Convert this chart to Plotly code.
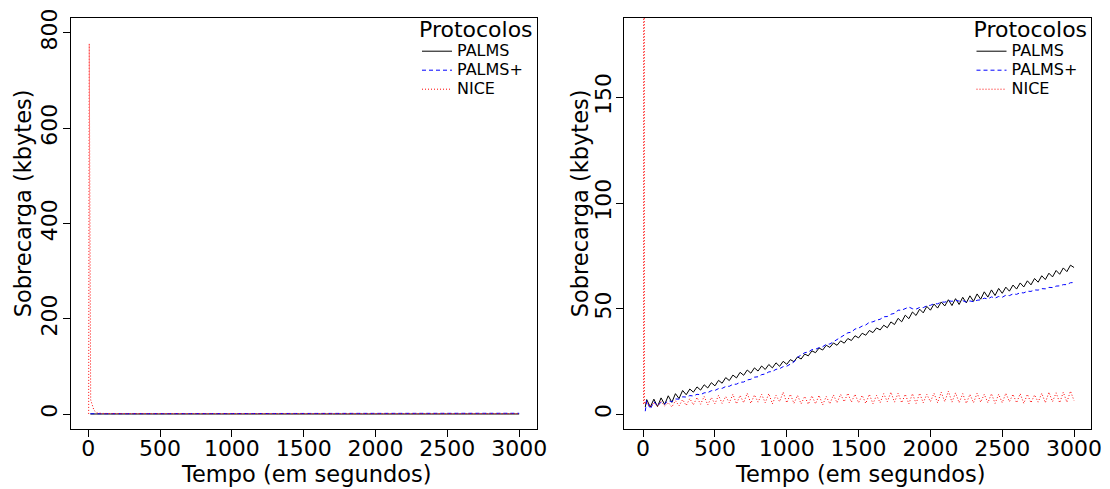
import plotly.graph_objects as go

# ---------------- Left panel data ----------------
left_t = [15, 100, 200, 300, 400, 500, 600, 700, 800, 900, 1000, 1100, 1200, 1300, 1400,
          1500, 1600, 1700, 1800, 1900, 2000, 2100, 2200, 2300, 2400, 2500, 2600, 2700,
          2800, 2900, 3000]
left_palms = [0.3, 0.2, 0.3, 0.2, 0.3, 0.2, 0.3, 0.2, 0.3, 0.2, 0.3, 0.2, 0.3, 0.2, 0.3,
              0.2, 0.3, 0.2, 0.3, 0.2, 0.3, 0.2, 0.3, 0.2, 0.3, 0.2, 0.3, 0.2, 0.3, 0.2, 0.3]
left_palmsplus = [0.8, 0.9, 1.0, 1.1, 1.1, 1.2, 1.2, 1.3, 1.3, 1.3, 1.4, 1.4, 1.4, 1.5, 1.5,
                  1.5, 1.5, 1.6, 1.6, 1.6, 1.6, 1.6, 1.7, 1.7, 1.7, 1.7, 1.7, 1.8, 1.8, 1.8, 1.8]
left_nice_t = [3, 7, 17, 30, 40, 60, 100, 200, 300, 400, 500, 600, 700, 800, 900, 1000,
               1200, 1400, 1600, 1800, 2000, 2200, 2400, 2600, 2800, 3000]
left_nice = [0.5, 777, 30, 20, 8, 2.5, 1.5, 1.2, 1.0, 1.0, 1.0, 1.0, 1.0, 1.0, 1.0, 1.0,
             1.0, 1.0, 1.0, 1.0, 1.0, 1.0, 1.0, 1.0, 1.0, 1.0]

# ---------------- Right panel data ----------------
right_t = [15] + list(range(25, 3001, 25))
right_palms = [
    3.5,
    7.0, 3.5, 7.2, 3.7, 7.8, 4.7, 8.8, 5.7, 9.8, 7.5, 11.3, 9.3,
    12.0, 10.5, 13.0, 11.5, 14.0, 12.5, 15.0, 13.5, 16.1, 14.75, 17.4, 16.0,
    18.6, 17.25, 19.9, 18.5, 21.0, 19.5, 22.0, 20.5, 22.9, 21.25, 23.6, 22.0,
    24.4, 22.75, 25.1, 23.7, 25.9, 24.95, 27.2, 26.2, 28.55, 27.7, 30.05, 29.2,
    31.4, 30.45, 32.7, 31.7, 33.8, 32.7, 34.8, 33.7, 35.9, 34.95, 37.2, 36.2,
    38.4, 37.45, 39.7, 38.7, 40.9, 39.95, 42.2, 41.0, 43.75, 42.5, 45.45, 43.8,
    46.95, 45.3, 48.45, 46.8, 49.8, 48.05, 51.1, 49.3, 52.2, 50.3, 53.2, 51.3,
    54.25, 51.5, 54.75, 52.0, 55.4, 52.75, 56.1, 53.5, 57.0, 54.5, 58.0, 55.5,
    58.9, 56.25, 59.6, 57.3, 60.2, 58.3, 61.2, 59.3, 62.2, 60.3, 63.2, 61.3,
    64.3, 62.55, 65.6, 63.8, 66.8, 65.05, 68.1, 66.3, 69.3, 67.55, 70.6, 69.5,
]
right_palmsplus = [
    1.5,
    6.5, 2.5, 6.0, 4.0, 5.8, 5.0, 6.5, 6.0, 7.3, 7.2, 8.3, 8.2,
    8.9, 8.7, 9.5, 9.3, 10.2, 10.3, 11.2, 11.3, 12.2, 12.3, 13.2, 13.3,
    14.2, 14.3, 15.2, 15.3, 16.3, 16.6, 17.6, 17.8, 18.8, 19.1, 20.1, 20.3,
    21.3, 21.6, 22.6, 22.8, 24.0, 24.8, 27.0, 28.3, 29.2, 29.5, 30.6, 30.8,
    31.6, 32.0, 33.2, 33.3, 34.4, 35.2, 36.6, 37.3, 38.6, 38.9, 40.4, 40.8,
    41.8, 42.3, 43.6, 43.8, 44.6, 45.0, 46.2, 46.3, 47.4, 47.8, 49.3, 49.3,
    50.0, 50.8, 50.0, 49.8, 50.6, 50.5, 51.4, 51.6, 52.4, 52.3, 53.2, 53.1,
    53.8, 53.5, 54.0, 53.6, 53.8, 53.2, 53.7, 53.3, 54.0, 54.2, 55.0, 54.6,
    55.6, 55.0, 55.8, 55.4, 56.4, 56.2, 57.0, 56.8, 57.6, 57.5, 58.3, 58.2,
    58.9, 58.8, 59.5, 59.4, 60.1, 60.0, 60.7, 60.8, 61.4, 61.4, 62.3, 62.4,
]
right_nice_t = [3, 6, 9, 15] + list(range(25, 3001, 25))
right_nice = [
    5.0, 777, 5.0, 5.5,
    6.0, 3.5, 5.5, 3.8, 6.0, 4.0, 5.5, 3.5, 6.5, 4.0, 7.0, 4.2,
    7.5, 4.5, 8.0, 4.8, 8.5, 4.5, 8.0, 5.0, 9.0, 5.2, 8.5, 5.5,
    9.5, 5.0, 9.0, 5.5, 10.0, 5.2, 9.2, 5.8, 9.5, 5.5, 9.8, 5.0,
    9.0, 6.0, 10.5, 5.5, 9.5, 5.2, 9.0, 5.0, 8.5, 4.8, 8.8, 5.0,
    9.0, 4.5, 8.5, 5.0, 9.2, 5.5, 9.5, 6.0, 10.0, 5.8, 9.5, 5.5,
    9.0, 5.2, 9.5, 5.0, 9.0, 5.5, 9.8, 6.0, 10.5, 5.8, 10.0, 5.5,
    9.5, 5.0, 9.8, 5.2, 10.0, 5.5, 9.5, 6.0, 10.0, 5.5, 10.5, 6.0,
    11.0, 5.8, 10.2, 5.5, 9.8, 5.2, 9.5, 5.5, 10.0, 5.8, 9.5, 5.5,
    9.8, 5.2, 9.5, 5.5, 10.0, 6.0, 9.5, 5.5, 9.8, 5.2, 9.5, 5.5,
    9.2, 5.8, 10.0, 5.5, 10.5, 6.0, 10.2, 5.5, 10.5, 5.8, 11.0, 6.5,
]

x_ticks = [0, 500, 1000, 1500, 2000, 2500, 3000]
left_y_ticks = [0, 200, 400, 600, 800]
right_y_ticks = [0, 50, 100, 150]
series_names = ["PALMS", "PALMS+", "NICE"]
x_title = "Tempo (em segundos)"
y_title = "Sobrecarga (kbytes)"
legend_title = "Protocolos"

FONT = "DejaVu Sans"
# The page body has an 8px margin, so the figure is drawn 8px right / 8px down.
OFF = 8
PAGE_W, PAGE_H = 1110, 489
W, H = PAGE_W - OFF, PAGE_H - OFF


def px_x(p):
    return (p - OFF) / W


def px_y(p):
    return (PAGE_H - p) / H


styles = [
    dict(color="black", width=1, dash="solid"),
    dict(color="#0000FF", width=1, dash="4px,3px"),
    dict(color="#FF0000", width=1, dash="1px,2px"),
]


def label(s):
    return '<span style="font-size:16px">%s</span>' % s


fig = go.Figure()

left_data = [(left_t, left_palms), (left_t, left_palmsplus), (left_nice_t, left_nice)]
right_data = [(right_t, right_palms), (right_t, right_palmsplus), (right_nice_t, right_nice)]

for name, (tx, ty), st in zip(series_names, left_data, styles):
    fig.add_trace(go.Scatter(x=tx, y=ty, mode="lines", name=label(name), line=st,
                             xaxis="x", yaxis="y", legend="legend"))
for name, (tx, ty), st in zip(series_names, right_data, styles):
    fig.add_trace(go.Scatter(x=tx, y=ty, mode="lines", name=label(name), line=st,
                             xaxis="x2", yaxis="y2", legend="legend2"))

left_dom = [px_x(70.7), px_x(536.7)]
right_dom = [px_x(624.3), px_x(1091.3)]
y_dom = [px_y(428.5), px_y(11)]

axis_common = dict(
    showline=True, mirror=True, linecolor="black", linewidth=1,
    ticks="outside", ticklen=7, tickwidth=1, tickcolor="black",
    showgrid=False, zeroline=False, automargin=False,
    ticklabeloverflow="allow",
    tickfont=dict(family=FONT, size=22, color="black"),
)

legend_common = dict(
    xanchor="right", yanchor="top", y=px_y(1),
    bgcolor="rgba(0,0,0,0)", borderwidth=0,
    font=dict(family=FONT, size=12, color="black"),
    title=dict(text=legend_title, font=dict(family=FONT, size=22, color="black")),
    itemwidth=30, tracegroupgap=0,
)

fig.update_layout(
    width=W, height=H,
    margin=dict(l=0, r=0, t=0, b=0),
    paper_bgcolor="white", plot_bgcolor="white",
    font=dict(family=FONT, color="black"),
    xaxis=dict(domain=left_dom, range=[-122, 3122], tickvals=x_ticks, anchor="y",
               ticklabelstandoff=-8, **axis_common),
    yaxis=dict(domain=y_dom, range=[-32, 831], tickvals=left_y_ticks, tickangle=-90,
               anchor="x", ticklabelstandoff=-3, **axis_common),
    xaxis2=dict(domain=right_dom, range=[-131, 3120], tickvals=x_ticks, anchor="y2",
                ticklabelstandoff=-8, **axis_common),
    yaxis2=dict(domain=y_dom, range=[-7.1, 187.6], tickvals=right_y_ticks, tickangle=-90,
                anchor="x2", ticklabelstandoff=-3, **axis_common),
    legend=dict(x=px_x(535), **legend_common),
    legend2=dict(x=px_x(1089.5), **legend_common),
    showlegend=True,
)

title_font = dict(family=FONT, size=22.5, color="black")
annotations = [
    dict(text=x_title, x=px_x(307), y=px_y(474),
         xref="paper", yref="paper", showarrow=False, xanchor="center", yanchor="middle",
         font=title_font),
    dict(text=x_title, x=px_x(860), y=px_y(474),
         xref="paper", yref="paper", showarrow=False, xanchor="center", yanchor="middle",
         font=title_font),
    dict(text=y_title, x=px_x(23), y=px_y(199),
         xref="paper", yref="paper", showarrow=False, xanchor="center", yanchor="middle",
         textangle=-90, font=title_font),
    dict(text=y_title, x=px_x(580), y=px_y(199),
         xref="paper", yref="paper", showarrow=False, xanchor="center", yanchor="middle",
         textangle=-90, font=title_font),
]
fig.update_layout(annotations=annotations)

fig.write_html("out.html")
